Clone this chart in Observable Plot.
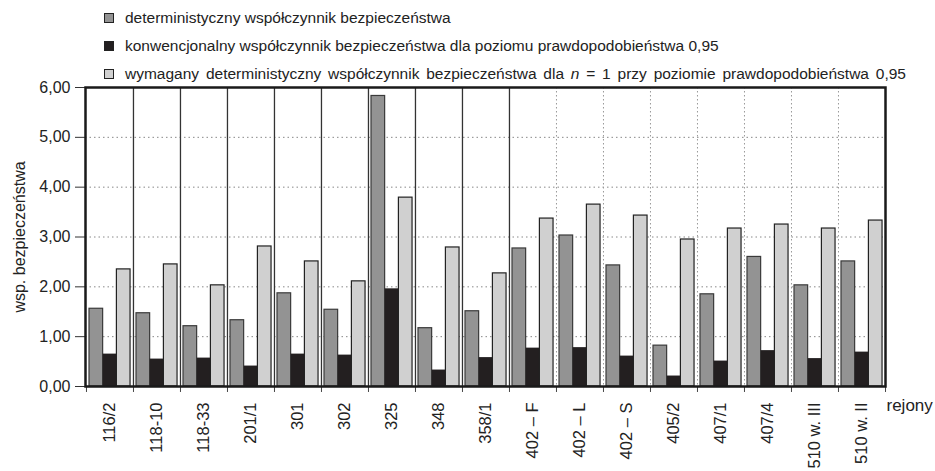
<!DOCTYPE html>
<html>
<head>
<meta charset="utf-8">
<script src="https://cdn.jsdelivr.net/npm/d3@7"></script>
<script src="https://cdn.jsdelivr.net/npm/@observablehq/plot@0.6"></script>
<style>
  html, body { margin: 0; padding: 0; background: #fff; }
  body { width: 935px; height: 471px; overflow: hidden; font-family: "Liberation Sans", Arial, sans-serif; color: #222; }
  #legend { position: relative; height: 78px; }
  .row { position: absolute; left: 104px; height: 16px; display: flex; align-items: center; font-size: 15.5px; white-space: nowrap; }
  .row.wide { word-spacing: 2.5px; }
  .sw { width: 8px; height: 8px; border: 1px solid #222; margin-right: 11px; box-sizing: content-box; }
  #chart svg { display: block; }
</style>
</head>
<body>
<div id="legend"></div>
<div id="chart"></div>
<script>
const categories = ["116/2","118-10","118-33","201/1","301","302","325","348","358/1","402 – F","402 – L","402 – S","405/2","407/1","407/4","510 w. III","510 w. II"];
const deterministic = [1.56,1.47,1.21,1.33,1.87,1.54,5.83,1.17,1.51,2.77,3.03,2.43,0.82,1.85,2.60,2.03,2.51];
const conventional  = [0.65,0.55,0.57,0.41,0.65,0.63,1.96,0.33,0.58,0.77,0.78,0.61,0.21,0.51,0.72,0.56,0.69];
const required      = [2.35,2.45,2.03,2.81,2.51,2.11,3.79,2.79,2.27,3.37,3.65,3.43,2.95,3.17,3.25,3.17,3.33];
const yTicks = [0,1,2,3,4,5,6];
const seriesNames = [
  "deterministyczny współczynnik bezpieczeństwa",
  "konwencjonalny współczynnik bezpieczeństwa dla poziomu prawdopodobieństwa 0,95",
  "wymagany deterministyczny współczynnik bezpieczeństwa dla <i>n</i> = 1 przy poziomie prawdopodobieństwa 0,95"
];
const colors = ["#939393", "#231f20", "#d0d0d0"];

// legend
const legend = document.getElementById("legend");
seriesNames.forEach((name, i) => {
  const row = document.createElement("div");
  row.className = "row" + (i === 2 ? " wide" : "");
  row.style.top = (10 + i * 28) + "px";
  row.innerHTML = `<span class="sw" style="background:${colors[i]}"></span><span>${name}</span>`;
  legend.appendChild(row);
});

const width = 935, height = 393;
const marginLeft = 85, marginRight = 50, marginTop = 9, marginBottom = 85;
const bw = (width - marginLeft - marginRight) / categories.length;
const pad = 3, bar = 13.7;

const table = categories.map((c, i) => ({c, det: deterministic[i], conv: conventional[i], req: required[i]}));
const fmt = d => d.toFixed(2).replace(".", ",");

const solidSep = categories.slice(1, 10);
const dottedSep = categories.slice(10);

const chart = Plot.plot({
  width, height, marginLeft, marginRight, marginTop, marginBottom,
  style: {fontFamily: "Liberation Sans, Arial, sans-serif", color: "#222", background: "#fff", overflow: "visible"},
  x: {type: "band", domain: categories, padding: 0},
  y: {domain: [0, 6]},
  marks: [
    Plot.ruleY([1,2,3,4,5], {stroke: "#888", strokeDasharray: "1.5,3", strokeWidth: 1}),
    Plot.ruleX(solidSep, {dx: -bw/2, stroke: "#333", strokeWidth: 1.3}),
    Plot.ruleX(dottedSep, {dx: -bw/2, stroke: "#999", strokeDasharray: "1.5,2.5", strokeWidth: 1}),
    Plot.ruleX(categories, {dx: -bw/2, y1: 0, y2: -0.12, stroke: "#444", strokeWidth: 1, clip: false}),
    Plot.ruleX(categories.slice(-1), {dx: bw/2, y1: 0, y2: -0.12, stroke: "#444", strokeWidth: 1, clip: false}),
    Plot.barY(table, {x: "c", y: "det", fill: colors[0], stroke: "#3a3a3a", strokeWidth: 1.2, insetLeft: pad, insetRight: bw - pad - bar}),
    Plot.barY(table, {x: "c", y: "conv", fill: colors[1], insetLeft: pad + bar, insetRight: bw - pad - 2*bar}),
    Plot.barY(table, {x: "c", y: "req", fill: colors[2], stroke: "#222", strokeWidth: 1.2, insetLeft: pad + 2*bar, insetRight: bw - pad - 3*bar}),
    Plot.axisY({ticks: yTicks, tickFormat: fmt, tickSize: 10, tickPadding: 5, fontSize: 16, stroke: "#333", label: null}),
    Plot.text(["wsp. bezpieczeństwa"], {frameAnchor: "left", dx: -66, rotate: -90, fontSize: 16, textAnchor: "middle"}),
    Plot.axisX({tickRotate: -90, tickSize: 0, tickPadding: 16, fontSize: 16.5, label: null}),
    Plot.text(["rejony"], {frameAnchor: "bottom-right", dx: 1, dy: 24, textAnchor: "start", fontSize: 17}),
    Plot.frame({stroke: "#1a1a1a", strokeWidth: 2.5})
  ]
});
document.getElementById("chart").appendChild(chart);
</script>
</body>
</html>
